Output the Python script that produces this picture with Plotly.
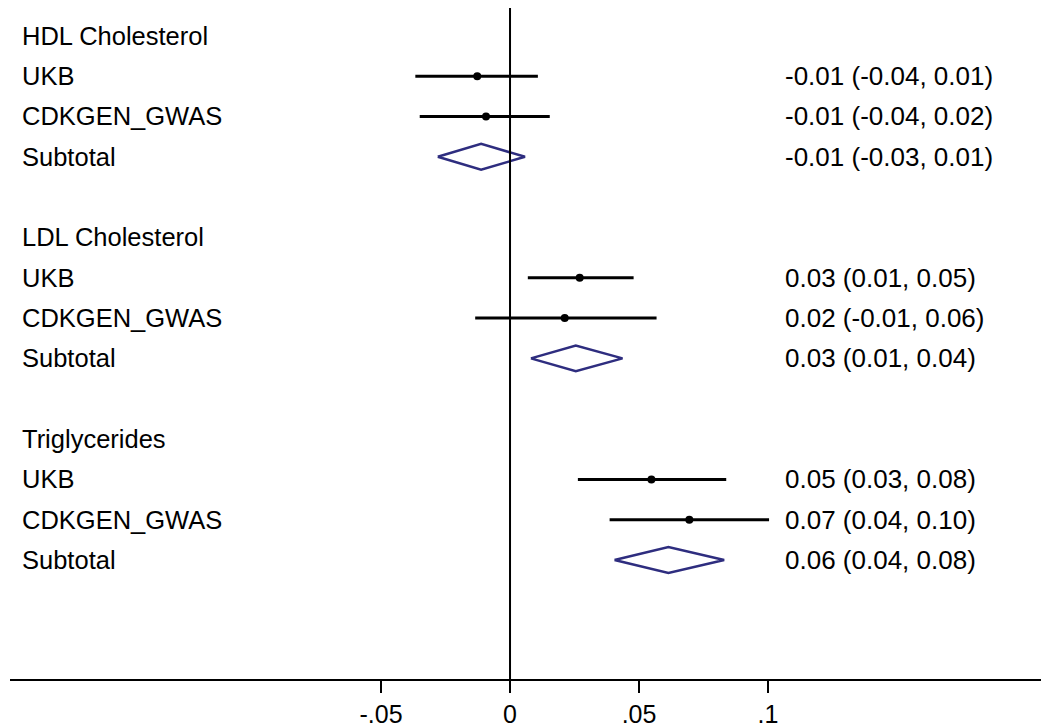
import plotly.graph_objects as go

groups = ["HDL Cholesterol", "LDL Cholesterol", "Triglycerides"]
studies = ["UKB", "CDKGEN_GWAS"]

ukb_est = [-0.0127, 0.0270, 0.0548]
ukb_lo = [-0.0367, 0.0069, 0.0263]
ukb_hi = [0.0108, 0.0479, 0.0838]

cdk_est = [-0.0093, 0.0212, 0.0695]
cdk_lo = [-0.0350, -0.0135, 0.0386]
cdk_hi = [0.0154, 0.0568, 0.1004]

sub_est = [-0.0112, 0.0255, 0.0614]
sub_lo = [-0.0280, 0.0081, 0.0405]
sub_hi = [0.0058, 0.0436, 0.0830]

ukb_txt = ["-0.01 (-0.04, 0.01)", "0.03 (0.01, 0.05)", "0.05 (0.03, 0.08)"]
cdk_txt = ["-0.01 (-0.04, 0.02)", "0.02 (-0.01, 0.06)", "0.07 (0.04, 0.10)"]
sub_txt = ["-0.01 (-0.03, 0.01)", "0.03 (0.01, 0.04)", "0.06 (0.04, 0.08)"]

tick_vals = [-0.05, 0, 0.05, 0.1]
tick_text = ["-.05", "0", ".05", ".1"]

FONT = "Liberation Sans, Arial, sans-serif"
DIAMOND = "#2E2D7F"
fig = go.Figure()

annotations = []
def left_label(text, row):
    annotations.append(dict(x=0.0097, xref="paper", y=row, yref="y", text=text,
                            showarrow=False, xanchor="left", yanchor="middle",
                            font=dict(family=FONT, size=25.5, color="black")))
def right_label(text, row):
    annotations.append(dict(x=0.7497, xref="paper", y=row, yref="y", text=text,
                            showarrow=False, xanchor="left", yanchor="middle",
                            font=dict(family=FONT, size=26, color="black")))

for g, name in enumerate(groups):
    base = 5 * g
    left_label(name, base)
    rows = [base + 1, base + 2]
    for r, est, lo, hi, txt, st in [
        (rows[0], ukb_est[g], ukb_lo[g], ukb_hi[g], ukb_txt[g], studies[0]),
        (rows[1], cdk_est[g], cdk_lo[g], cdk_hi[g], cdk_txt[g], studies[1]),
    ]:
        fig.add_trace(go.Scatter(x=[lo, hi], y=[r, r], mode="lines",
                                 line=dict(color="black", width=3), showlegend=False,
                                 hoverinfo="skip"))
        fig.add_trace(go.Scatter(x=[est], y=[r], mode="markers",
                                 marker=dict(color="black", size=8), showlegend=False))
        left_label(st, r)
        right_label(txt, r)
    rs = base + 3
    h = 0.32
    fig.add_trace(go.Scatter(
        x=[sub_lo[g], sub_est[g], sub_hi[g], sub_est[g], sub_lo[g]],
        y=[rs, rs - h, rs, rs + h, rs], mode="lines",
        line=dict(color=DIAMOND, width=2.5), showlegend=False))
    left_label("Subtotal", rs)
    right_label(sub_txt[g], rs)

fig.add_shape(type="line", x0=0, x1=0, y0=-0.69, y1=15.95, xref="x", yref="y",
              line=dict(color="black", width=2))

fig.update_layout(
    width=1041, height=728,
    margin=dict(l=10, r=0, t=8, b=41),
    paper_bgcolor="white", plot_bgcolor="white",
    annotations=annotations,
    xaxis=dict(range=[-0.1938, 0.2058], showline=True, linecolor="black", linewidth=2,
               ticks="outside", ticklen=12, tickwidth=2, tickcolor="black",
               tickvals=tick_vals, ticktext=tick_text, showgrid=False, zeroline=False,
               tickfont=dict(family=FONT, size=25, color="black")),
    yaxis=dict(range=[15.95, -0.69], visible=False, showgrid=False, zeroline=False),
)

fig.write_html("out.html", config={"displayModeBar": False},
               post_script="document.body.style.margin='0px';document.body.style.overflow='hidden';")
